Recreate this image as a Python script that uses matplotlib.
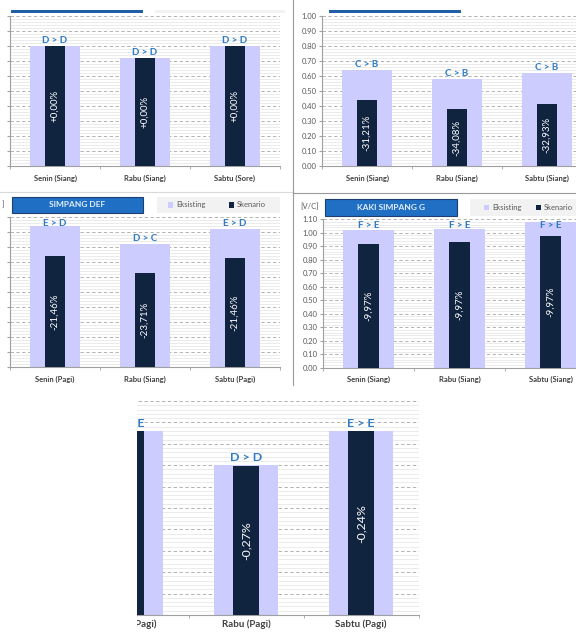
import numpy as np
import matplotlib.pyplot as plt
from matplotlib.patches import Rectangle
from matplotlib.lines import Line2D

plt.rcParams['font.family'] = ['Lato', 'DejaVu Sans']

W, H = 576, 632

# --- data, one block per panel ---
cats_1 = ['Senin (Siang)', 'Rabu (Siang)', 'Sabtu (Sore)']
eks_1 = [0.80, 0.72, 0.80]
skn_1 = [0.80, 0.72, 0.80]
grade_1 = ['D > D', 'D > D', 'D > D']
pct_1 = ['+0,00%', '+0,00%', '+0,00%']

cats_2 = ['Senin (Siang)', 'Rabu (Siang)', 'Sabtu (Siang)']
eks_2 = [0.64, 0.58, 0.62]
skn_2 = [0.44, 0.38, 0.415]
grade_2 = ['C > B', 'C > B', 'C > B']
pct_2 = ['-31,21%', '-34,08%', '-32,93%']

cats_3 = ['Senin (Pagi)', 'Rabu (Siang)', 'Sabtu (Pagi)']
eks_3 = [0.94, 0.82, 0.92]
skn_3 = [0.74, 0.625, 0.725]
grade_3 = ['E > D', 'D > C', 'E > D']
pct_3 = ['-21,46%', '-23,71%', '-21,46%']

cats_4 = ['Senin (Siang)', 'Rabu (Siang)', 'Sabtu (Siang)']
eks_4 = [1.02, 1.03, 1.08]
skn_4 = [0.92, 0.93, 0.975]
grade_4 = ['F > E', 'F > E', 'F > E']
pct_4 = ['-9,97%', '-9,97%', '-9,97%']

cats_5 = ['Senin (Pagi)', 'Rabu (Pagi)', 'Sabtu (Pagi)']
eks_5 = [0.86, 0.70, 0.86]
skn_5 = [0.858, 0.698, 0.858]
grade_5 = ['E > E', 'D > D', 'E > E']
pct_5 = ['-0,25%', '-0,27%', '-0,24%']

EKS = '#CCCCFF'
SKN = '#10233F'
GRADE = '#2E7BC4'
GRID = '#A6A6A6'
AXC = '#A0A0A0'

fig = plt.figure(figsize=(W / 100, H / 100), dpi=100)


def add_ax(l, t, r, b):
    return fig.add_axes([l / W, 1 - b / H, (r - l) / W, (b - t) / H])


def box(x0, y0, x1, y1, fc, ec='none', lw=0, z=5):
    fig.add_artist(Rectangle((x0 / W, 1 - y1 / H), (x1 - x0) / W, (y1 - y0) / H,
                             transform=fig.transFigure, fc=fc, ec=ec, lw=lw, zorder=z))


def ftext(x, y, s, **kw):
    fig.text(x / W, 1 - y / H, s, **kw)


def hline(x0, x1, y, color, lw=0.8):
    fig.add_artist(Line2D([x0 / W, x1 / W], [1 - y / H, 1 - y / H],
                          transform=fig.transFigure, color=color, lw=lw, zorder=6))


def vline(x, y0, y1, color, lw=0.8):
    fig.add_artist(Line2D([x / W, x / W], [1 - y0 / H, 1 - y1 / H],
                          transform=fig.transFigure, color=color, lw=lw, zorder=6))


def panel(rect, top, cats, eks, skn, grades, pcts, s=1.0, ylabels=False, xpad=6):
    l, t, r, b = rect
    ax = add_ax(l, t, r, b)
    x = np.arange(len(cats))
    ax.set_xlim(-0.5, len(cats) - 0.5)
    ax.set_ylim(0, top)
    ax.set_yticks(np.arange(0, top + 0.001, 0.1))
    ax.set_yticks(np.arange(0, top + 0.001, 0.02), minor=True)
    ax.grid(axis='y', which='major', color=GRID, ls=(0, (4, 3)), lw=0.6)
    ax.grid(axis='y', which='minor', color='#E3E3E3', lw=0.5)
    ax.set_axisbelow(True)
    ax.bar(x, eks, width=0.56, color=EKS, zorder=2)
    ax.bar(x, skn, width=0.22, color=SKN, zorder=3)

    k = (b - t) / top  # pixels per unit
    off = 6 * s / k
    for xi, v, g in zip(x, eks, grades):
        ax.text(xi, min(v + off, top - off), g, ha='center', va='center',
                color=GRADE, fontsize=7 * s, fontweight='bold', clip_on=False, zorder=5)
    for xi, v, p in zip(x, skn, pcts):
        ax.text(xi, v / 2, p, rotation=90, ha='center', va='center',
                color='white', fontsize=7 * s, zorder=5)

    ax.set_xticks(x)
    ax.set_xticklabels(cats, fontsize=5.5 * s, fontweight='bold', color='#404040')
    ax.set_xticks(np.arange(-0.5, len(cats)), minor=True)
    ax.tick_params(axis='x', which='major', length=0, pad=xpad)
    ax.tick_params(axis='x', which='minor', length=2.5, color=AXC)
    ax.tick_params(axis='y', which='major', length=2.5, color=AXC,
                   labelsize=5.5, labelcolor='#595959', pad=1.5, labelleft=ylabels)
    ax.tick_params(axis='y', which='minor', length=0)
    ax.yaxis.set_major_formatter('{x:.2f}')
    for sp in ['top', 'right']:
        ax.spines[sp].set_visible(False)
    ax.spines['left'].set_color(AXC)
    ax.spines['bottom'].set_color(AXC)
    return ax


def header(x0, y0, x1, y1, title, lx0, lx1, sq1, sq2):
    box(x0, y0, x1, y1, '#1F6FC4', ec='#1F3F70', lw=0.8)
    ftext((x0 + x1) / 2, (y0 + y1) / 2, title, ha='center', va='center',
          color='#E2EEFA', fontsize=6, fontweight='bold', zorder=7)
    box(lx0, y0, lx1, y1, '#F2F2F2')
    ym = (y0 + y1) / 2
    box(sq1, ym - 2.5, sq1 + 5, ym + 2.5, EKS, z=7)
    ftext(sq1 + 8, ym, 'Eksisting', ha='left', va='center', color='#595959', fontsize=5.5, zorder=7)
    box(sq2, ym - 2.5, sq2 + 5, ym + 2.5, SKN, z=7)
    ftext(sq2 + 8, ym, 'Skenario', ha='left', va='center', color='#595959', fontsize=5.5, zorder=7)


# top row (header boxes cropped away, only their lower edge remains)
panel((10, 16, 280, 166), 1.0, cats_1, eks_1, skn_1, grade_1, pct_1)
panel((322, 16, 592, 166), 1.0, cats_2, eks_2, skn_2, grade_2, pct_2, ylabels=True)
box(11, 10.5, 143, 13, '#1F5FA8')
box(155, 10.5, 285, 13, '#F2F2F2')
box(329, 10.5, 461, 13, '#1F5FA8')

# middle row
panel((10, 217, 280, 367), 1.0, cats_3, eks_3, skn_3, grade_3, pct_3)
header(12, 197, 143, 213, 'SIMPANG DEF', 157, 280, 168, 229)
ftext(3, 205, ']', ha='center', va='center', color='#595959', fontsize=5.5)

panel((323, 219.3, 596, 367.7), 1.1, cats_4, eks_4, skn_4, grade_4, pct_4, ylabels=True)
header(325, 199, 457, 216, 'KAKI SIMPANG G', 470, 580, 484, 536)
ftext(310, 207, '[V/C]', ha='center', va='center', color='#595959', fontsize=5.5)

# frame lines between the pasted pictures
hline(0, 293, 192, '#D9D9D9')
hline(293, 576, 193, '#9A9A9A')
vline(293, 0, 385, '#9A9A9A')

# bottom picture, cropped on the left
panel((73.5, 401, 418.5, 615), 1.0, cats_5, eks_5, skn_5, grade_5, pct_5, s=1.28, xpad=3.5)
box(0, 388, 137, 632, 'white', z=10)

fig.savefig('out.png', dpi=100)
